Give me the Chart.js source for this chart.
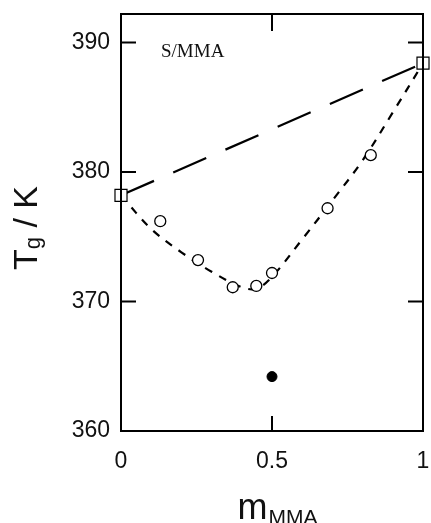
<!DOCTYPE html>
<html>
<head>
<meta charset="utf-8">
<script src="https://cdn.jsdelivr.net/npm/chart.js@4/dist/chart.umd.min.js"></script>
<style>
  html, body { margin: 0; padding: 0; background: #fff; }
  #wrap { width: 431px; height: 523px; }
</style>
</head>
<body>
<div id="wrap"><canvas id="tg-chart"></canvas></div>
<script>
// pure homopolymers (squares)
const homoX = [0, 1];
const homoTg = [378.2, 388.4];
// copolymers, open circles
const copoX = [0.13, 0.255, 0.37, 0.448, 0.50, 0.684, 0.827];
const copoTg = [376.2, 373.2, 371.1, 371.2, 372.2, 377.2, 381.3];
// blend, filled dot
const blendX = [0.5];
const blendTg = [364.2];
// short dashed fit line
const fitX = [0, 0.1, 0.2, 0.3, 0.4, 0.45, 0.5, 0.6, 0.7, 0.8, 0.9, 1];
const fitTg = [378.2, 375.6, 373.8, 372.3, 371.1, 371.0, 371.9, 374.8, 377.8, 380.9, 384.6, 388.4];

const xTicks = [0, 0.5, 1];
const yTicks = [360, 370, 380, 390];

const pts = (xs, ys) => xs.map((x, i) => ({x: x, y: ys[i]}));

// kill the extra room chart.js keeps for edge labels
const noPad = s => {
  s.paddingLeft = 0; s.paddingRight = 0; s.paddingTop = 0; s.paddingBottom = 0;
};

const SANS = '"Liberation Sans", Arial, sans-serif';

// frame, inward ticks, axis titles and the S/MMA label
const framePlugin = {
  id: 'frame',
  afterDraw(chart) {
    const ctx = chart.ctx, a = chart.chartArea;
    const xs = chart.scales.x, ys = chart.scales.y;
    ctx.save();
    ctx.strokeStyle = '#000';
    ctx.lineWidth = 2;
    ctx.strokeRect(a.left, a.top, a.right - a.left, a.bottom - a.top);
    ctx.beginPath();
    yTicks.forEach(v => {
      if (v === 360) return;
      const py = ys.getPixelForValue(v);
      ctx.moveTo(a.left, py); ctx.lineTo(a.left + 15, py);
      ctx.moveTo(a.right, py); ctx.lineTo(a.right - 15, py);
    });
    xTicks.forEach(v => {
      if (v === 0 || v === 1) return;
      const px = xs.getPixelForValue(v);
      ctx.moveTo(px, a.bottom); ctx.lineTo(px, a.bottom - 15);
      ctx.moveTo(px, a.top); ctx.lineTo(px, a.top + 17);
    });
    ctx.stroke();

    ctx.fillStyle = '#111';
    ctx.textBaseline = 'alphabetic';
    ctx.textAlign = 'left';

    // x title: m_MMA
    const big = '36px ' + SANS;
    const sub = '21px ' + SANS;
    ctx.font = big; const wm = ctx.measureText('m').width;
    ctx.font = sub; const ws = ctx.measureText('MMA').width;
    let x0 = (a.left + a.right) / 2 + 5 - (wm + ws) / 2;
    ctx.font = big; ctx.fillText('m', x0, 519);
    ctx.font = sub; ctx.fillText('MMA', x0 + wm + 1, 524);

    // y title: T_g / K
    ctx.translate(37, 228);
    ctx.rotate(-Math.PI / 2);
    const yb = '34px ' + SANS;
    const ysub = '22px ' + SANS;
    ctx.font = yb; const wT = ctx.measureText('T').width; const wK = ctx.measureText(' / K').width;
    ctx.font = ysub; const wg = ctx.measureText('g').width;
    let s = -(wT + wg + wK) / 2;
    ctx.font = yb; ctx.fillText('T', s, 0);
    ctx.font = ysub; ctx.fillText('g', s + wT, 3);
    ctx.font = yb; ctx.fillText(' / K', s + wT + wg, 0);
    ctx.restore();

    ctx.save();
    ctx.fillStyle = '#111';
    ctx.font = '19px "Liberation Serif", "Times New Roman", serif';
    ctx.textBaseline = 'alphabetic';
    ctx.fillText('S/MMA', 161, 57);
    ctx.restore();
  }
};

new Chart(document.getElementById('tg-chart').getContext('2d'), {
  type: 'scatter',
  data: {
    datasets: [
      {
        label: 'homopolymers',
        data: pts(homoX, homoTg),
        pointStyle: 'rect',
        pointRadius: 8.5,
        backgroundColor: '#fff',
        borderColor: '#000',
        borderWidth: 1.2,
        order: 0
      },
      {
        label: 'copolymers',
        data: pts(copoX, copoTg),
        pointStyle: 'circle',
        pointRadius: 5.5,
        backgroundColor: '#fff',
        borderColor: '#000',
        borderWidth: 1.3,
        order: 0
      },
      {
        label: 'blend',
        data: pts(blendX, blendTg),
        pointRadius: 5,
        backgroundColor: '#000',
        borderColor: '#000',
        borderWidth: 1,
        order: 0
      },
      {
        label: 'fit',
        type: 'line',
        data: pts(fitX, fitTg),
        borderColor: '#000',
        borderWidth: 2.2,
        borderDash: [8, 8],
        tension: 0.35,
        pointRadius: 0,
        fill: false,
        order: 2
      },
      {
        label: 'linear',
        type: 'line',
        data: pts(homoX, homoTg),
        borderColor: '#000',
        borderWidth: 2.2,
        borderDash: [36, 21],
        pointRadius: 0,
        fill: false,
        order: 3
      }
    ]
  },
  options: {
    responsive: true,
    maintainAspectRatio: false,
    animation: false,
    clip: false,
    layout: { autoPadding: false, padding: { top: 14, right: 8, left: 0, bottom: 0 } },
    plugins: {
      legend: { display: false },
      tooltip: { enabled: false }
    },
    scales: {
      x: {
        type: 'linear',
        min: 0,
        max: 1,
        afterBuildTicks: s => { s.ticks = xTicks.map(v => ({value: v})); },
        afterFit: s => { s.height = 92; noPad(s); },
        grid: { display: false, drawTicks: false },
        border: { display: false },
        ticks: {
          color: '#111',
          padding: 17,
          maxRotation: 0,
          font: { size: 23, family: SANS },
          callback: v => String(v)
        }
      },
      y: {
        type: 'linear',
        min: 360,
        max: 392.2,
        afterBuildTicks: s => { s.ticks = yTicks.map(v => ({value: v})); },
        afterFit: s => { s.width = 121; noPad(s); },
        grid: { display: false, drawTicks: false },
        border: { display: false },
        ticks: {
          color: '#111',
          padding: 11,
          font: { size: 23, family: SANS }
        }
      }
    }
  },
  plugins: [framePlugin]
});
</script>
</body>
</html>
